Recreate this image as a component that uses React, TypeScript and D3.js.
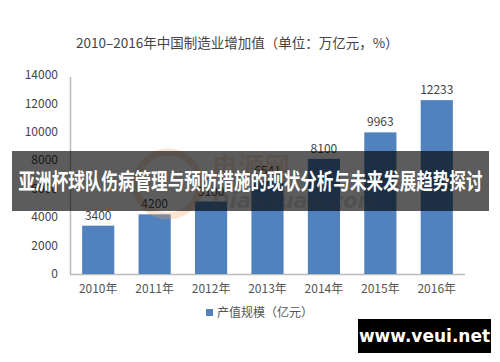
import React from "react";
import * as d3 from "d3";

const categories = ["2010年", "2011年", "2012年", "2013年", "2014年", "2015年", "2016年"];
const values = [3400, 4200, 5100, 6541, 8100, 9963, 12233];
const yTicks = [0, 2000, 4000, 6000, 8000, 10000, 12000, 14000];
const title = "2010–2016年中国制造业增加值（单位：万亿元，%）";
const legendLabel = "产值规模（亿元）";
const bannerText = "亚洲杯球队伤病管理与预防措施的现状分析与未来发展趋势探讨";
const siteText = "www.veui.net";

const W = 500;
const H = 362;
const font = "'Noto Sans CJK SC', 'Noto Sans', sans-serif";

export default function App() {
  const x = d3.scaleBand<string>().domain(categories).range([70, 465]).paddingInner(0.43).paddingOuter(0.215);
  const y = d3.scaleLinear().domain([0, 14000]).range([274, 75]);

  return (
    <svg
      width={W}
      height={H}
      style={{ position: "absolute", left: 0, top: 0, background: "#fff" }}
      fontFamily={font}
    >
      <rect x={0} y={0} width={W} height={H} fill="#fff" />
      <text x={76} y={48} fontSize={13.5} fill="#444">{title}</text>

      {/* axes */}
      <line x1={70.5} x2={70.5} y1={y(14000) + 2} y2={y(0)} stroke="#bbb" strokeWidth={1.5} />
      <line x1={70} x2={465} y1={y(0) + 0.5} y2={y(0) + 0.5} stroke="#bbb" strokeWidth={1.5} />
      {yTicks.map((t) => (
        <text key={t} x={58} y={y(t)} dy="0.35em" textAnchor="end" fontSize={12} fill="#444">
          {t}
        </text>
      ))}

      {/* bars */}
      {values.map((v, i) => (
        <g key={categories[i]}>
          <rect
            x={x(categories[i])!}
            y={y(v)}
            width={x.bandwidth()}
            height={y(0) - y(v)}
            fill="#5182bd"
          />
          <text
            x={x(categories[i])! + x.bandwidth() / 2}
            y={y(v) - 6}
            textAnchor="middle"
            fontSize={12}
            fill="#444"
          >
            {v}
          </text>
          <text
            x={x(categories[i])! + x.bandwidth() / 2}
            y={289}
            dy="0.35em"
            textAnchor="middle"
            fontSize={12}
            fill="#555"
          >
            {categories[i]}
          </text>
        </g>
      ))}

      {/* legend */}
      <rect x={206} y={309} width={7} height={7} fill="#5182bd" />
      <text x={217} y={313} dy="0.35em" fontSize={12} fill="#555">{legendLabel}</text>

      {/* faint watermark */}
      <g opacity={0.28}>
        <circle cx={168} cy={184} r={32} fill="none" stroke="#f0a060" strokeWidth={7} />
        <text x={212} y={176} fontSize={26} fontWeight="bold" fill="#f0a060">电源网</text>
        <text x={212} y={208} fontSize={21} fontWeight="bold" fontStyle="italic" fill="#888" fontFamily="'DejaVu Sans', sans-serif">DianYuan.com</text>
      </g>

      {/* banner */}
      <rect x={12} y={151} width={477} height={60} fill="#000" opacity={0.64} />
      <text
        x={250.5}
        y={181}
        dy="0.35em"
        textAnchor="middle"
        fontSize={22}
        fontWeight="bold"
        fill="#fff"
        textLength={464}
        lengthAdjust="spacingAndGlyphs"
      >
        {bannerText}
      </text>

      {/* site badge */}
      <rect x={358} y={319} width={133} height={34} fill="#000" />
      <text x={424.5} y={336} dy="0.35em" textAnchor="middle" fontSize={17} fontWeight="bold" fill="#fff" fontFamily="'DejaVu Sans', sans-serif">
        {siteText}
      </text>
    </svg>
  );
}
